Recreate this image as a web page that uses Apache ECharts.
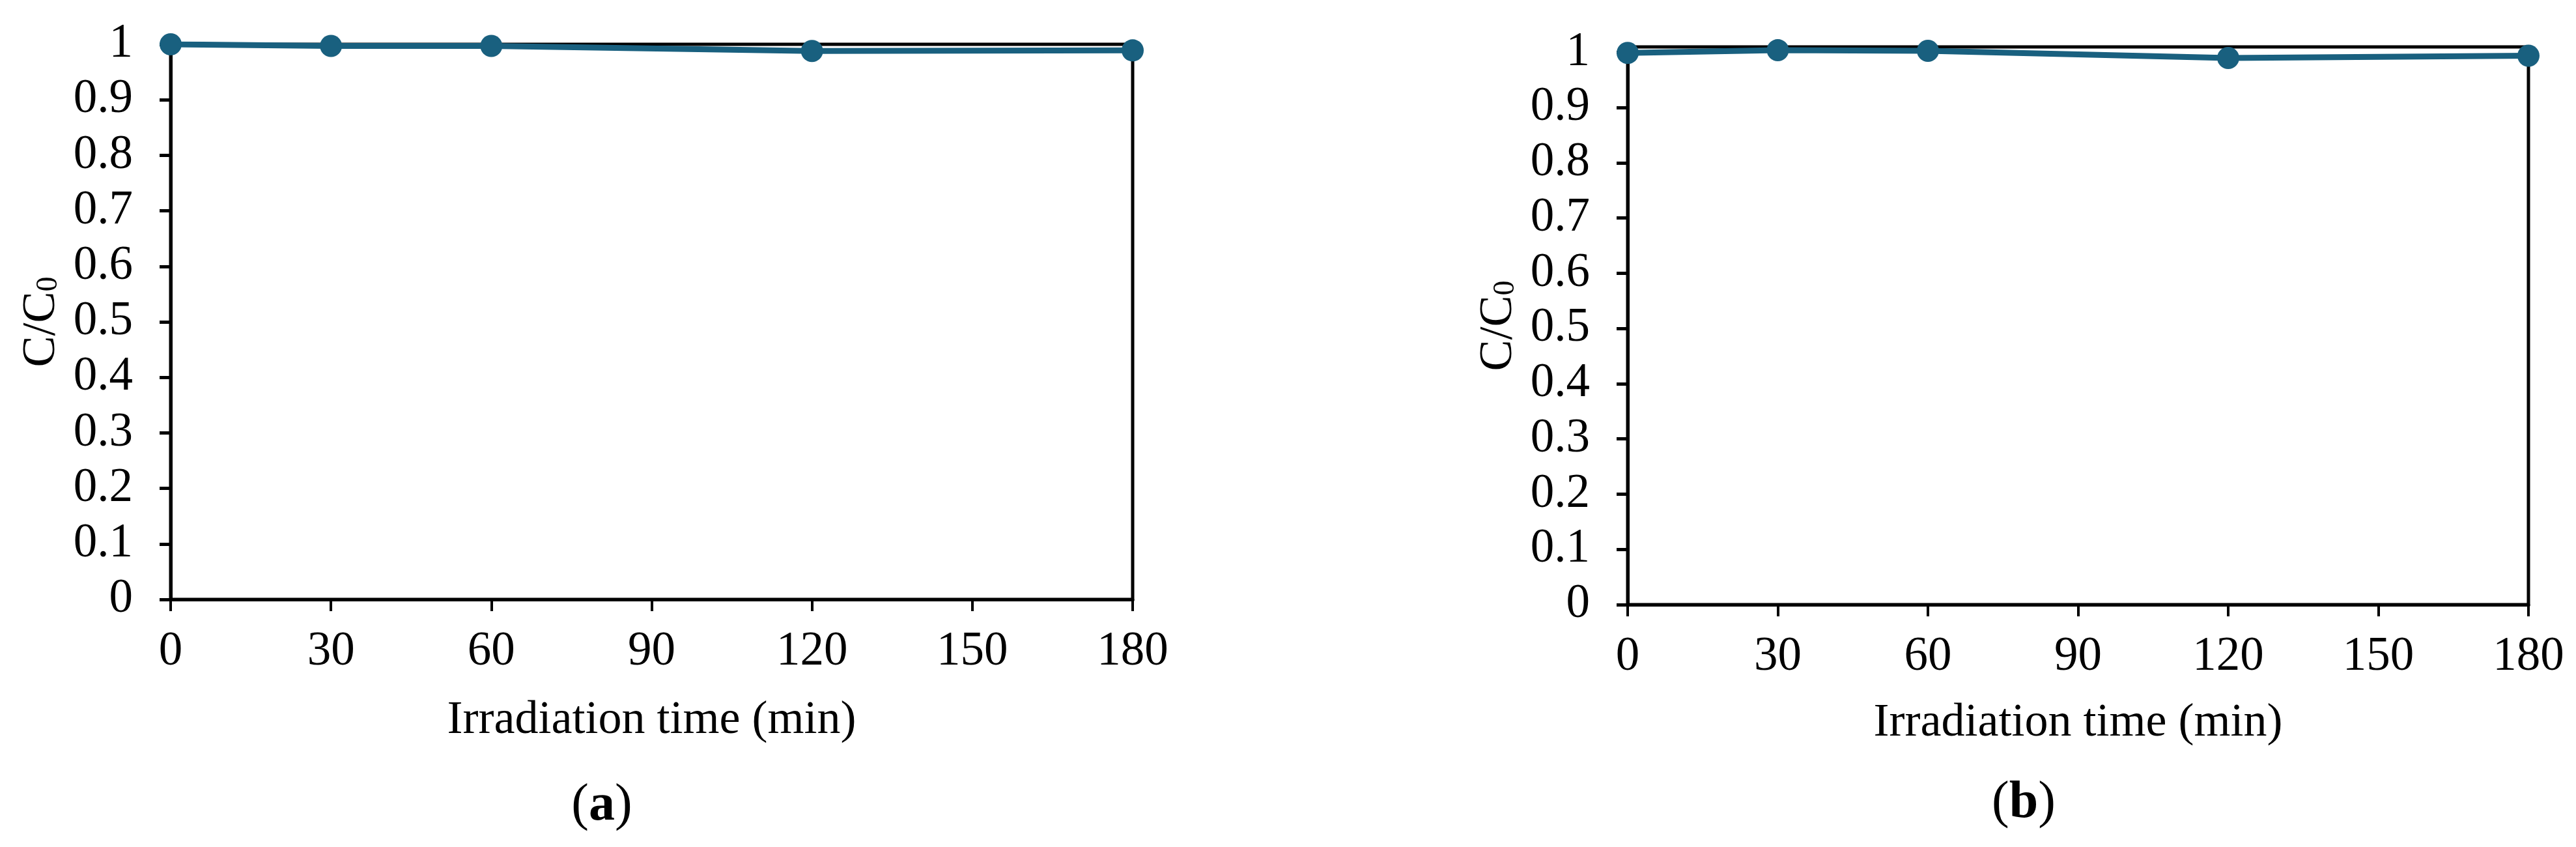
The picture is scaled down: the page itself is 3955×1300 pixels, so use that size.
<!DOCTYPE html>
<html style="height: 100%">
<head>
    <meta charset="utf-8">
</head>
<body style="height: 100%; margin: 0; background: #fff">
<div id="container" style="width: 3955px; height: 1300px"></div>
<script src="https://cdn.jsdelivr.net/npm/echarts@6/dist/echarts.min.js"></script>
<script type="text/javascript">
    // irradiation times (min) and C/C0 readings for both panels
    var times = [0, 30, 60, 120, 180];
    var ratioA = [1.0, 0.997, 0.997, 0.988, 0.989];
    var ratioB = [0.999, 1.004, 1.003, 0.990, 0.994];
    var yTicks = [0, 0.1, 0.2, 0.3, 0.4, 0.5, 0.6, 0.7, 0.8, 0.9, 1];
    var xTitle = 'Irradiation time (min)';

    var dom = document.getElementById("container");
    var myChart = echarts.init(dom);

    var font = 'Liberation Serif';
    var blue = '#19607f';

    function pairs(ys) {
        var out = [];
        for (let i = 0; i < times.length; i++) {
            out.push([times[i], ys[i]]);
        }
        return out;
    }

    function xAxisOf(idx, gap) {
        return {
            type: 'value', gridIndex: idx, min: 0, max: 180, interval: 30,
            name: xTitle, nameLocation: 'middle', nameGap: gap,
            nameTextStyle: {fontFamily: font, fontSize: 72, color: '#000'},
            axisLine: {lineStyle: {color: '#000', width: 5}},
            axisTick: {length: 18, lineStyle: {color: '#000', width: 4}},
            axisLabel: {fontFamily: font, fontSize: 73, color: '#000', margin: 44},
            splitLine: {show: false}
        };
    }

    function yAxisOf(idx, max) {
        return {
            type: 'value', gridIndex: idx, min: 0, max: max,
            name: '{n|C/C}{s|0}', nameLocation: 'middle', nameGap: 162, nameRotate: 90,
            nameTextStyle: {
                rich: {
                    n: {fontFamily: font, fontSize: 72, color: '#000'},
                    s: {fontFamily: font, fontSize: 46, color: '#000', padding: [22, 0, 0, 0]}
                }
            },
            axisLine: {show: true, lineStyle: {color: '#000', width: 5}},
            axisTick: {length: 17, customValues: yTicks, lineStyle: {color: '#000', width: 5}},
            axisLabel: {fontFamily: font, fontSize: 73, color: '#000', margin: 58, customValues: yTicks},
            splitLine: {show: false}
        };
    }

    function lineOf(idx, ys) {
        return {
            type: 'line', xAxisIndex: idx, yAxisIndex: idx,
            data: pairs(ys),
            symbol: 'circle', symbolSize: 34,
            itemStyle: {color: blue},
            lineStyle: {color: blue, width: 9},
            z: 5
        };
    }

    function caption(x, y, letter) {
        return {
            type: 'text', x: x, y: y,
            style: {
                text: '{p|(}{b|' + letter + '}{p|)}',
                align: 'center', verticalAlign: 'middle',
                rich: {
                    p: {fontFamily: font, fontSize: 80, fill: '#000'},
                    b: {fontFamily: font, fontSize: 80, fontWeight: 'bold', fill: '#000'}
                }
            }
        };
    }

    var option = {
        backgroundColor: '#fff',
        animation: false,
        grid: [
            {left: 262, top: 68, width: 1477, height: 852, show: true, borderColor: '#000', borderWidth: 5},
            {left: 2499, top: 72, width: 1383, height: 856, show: true, borderColor: '#000', borderWidth: 5}
        ],
        xAxis: [xAxisOf(0, 150), xAxisOf(1, 146)],
        yAxis: [yAxisOf(0, 1), yAxisOf(1, 1.01)],
        series: [lineOf(0, ratioA), lineOf(1, ratioB)],
        graphic: [caption(924, 1237, 'a'), caption(3107, 1233, 'b')]
    };

    if (option && typeof option === 'object') {
        myChart.setOption(option);
    }
</script>
</body>
</html>
